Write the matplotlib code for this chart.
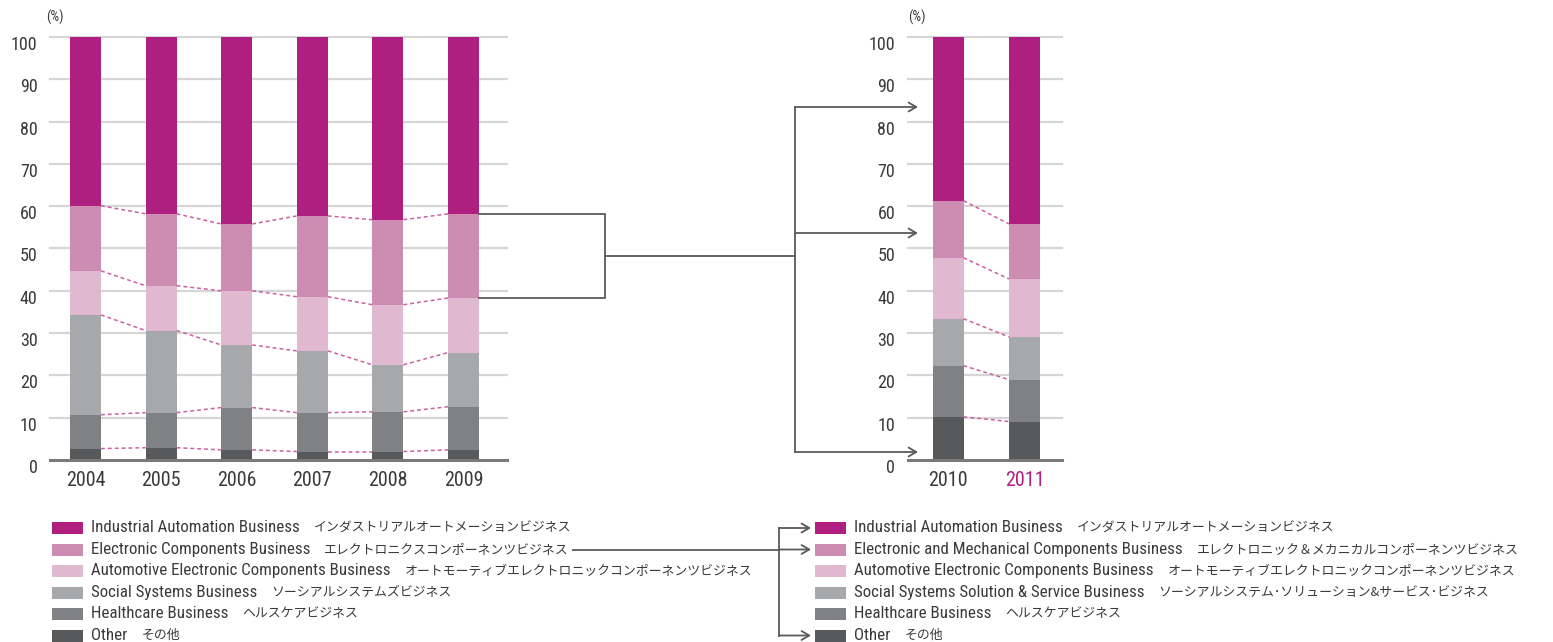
import matplotlib
matplotlib.use('agg')
import matplotlib.pyplot as plt
from matplotlib.patches import Rectangle
from matplotlib.transforms import ScaledTranslation
import numpy as np

EN = 'Roboto Condensed'
JP = 'Noto Sans CJK JP'
plt.rcParams['font.family'] = [EN, JP]

# segment shares (%), bottom to top
years_a = ['2004', '2005', '2006', '2007', '2008', '2009']
other_a = [2.7, 2.9, 2.4, 2.0, 2.0, 2.4]
health_a = [8.0, 8.3, 10.0, 9.2, 9.4, 10.2]
social_a = [23.6, 19.4, 14.8, 14.6, 11.1, 12.8]
auto_a = [10.4, 10.6, 12.8, 12.8, 14.2, 12.9]
elec_a = [15.4, 17.0, 15.8, 19.1, 20.1, 19.9]
iab_a = [39.9, 41.8, 44.2, 42.3, 43.2, 41.8]

years_b = ['2010', '2011']
other_b = [10.2, 9.1]
health_b = [12.1, 9.9]
social_b = [11.1, 10.1]
auto_b = [14.4, 13.7]
elec_b = [13.5, 13.0]
iab_b = [38.7, 44.2]

colors = ['#58595b', '#808184', '#a7a8ab', '#e0b8cf', '#cd8db3', '#ae1f7f']

en_a = ['Industrial Automation Business', 'Electronic Components Business',
        'Automotive Electronic Components Business', 'Social Systems Business',
        'Healthcare Business', 'Other']
jp_a = ['インダストリアルオートメーションビジネス', 'エレクトロニクスコンポーネンツビジネス',
        'オートモーティブエレクトロニックコンポーネンツビジネス', 'ソーシアルシステムズビジネス',
        'ヘルスケアビジネス', 'その他']
en_b = ['Industrial Automation Business', 'Electronic and Mechanical Components Business',
        'Automotive Electronic Components Business', 'Social Systems Solution & Service Business',
        'Healthcare Business', 'Other']
jp_b = ['インダストリアルオートメーションビジネス', 'エレクトロニック＆メカニカルコンポーネンツビジネス',
        'オートモーティブエレクトロニックコンポーネンツビジネス', 'ソーシアルシステム･ソリューション&サービス･ビジネス',
        'ヘルスケアビジネス', 'その他']

W, H = 1553, 642
fig = plt.figure(figsize=(W / 100, H / 100), dpi=100)
TXT = '#3a3a3a'
LINE = '#5a5a5c'


def px_axes(x0, y0, x1, y1):
    return fig.add_axes([x0 / W, 1 - y1 / H, (x1 - x0) / W, (y1 - y0) / H])


def stacked(ax, years, series, xlim, width, pct_x):
    x = np.arange(len(years))
    bottom = np.zeros(len(years))
    tops = []
    for vals, c in zip(series, colors):
        ax.bar(x, vals, width, bottom=bottom, color=c, zorder=3, linewidth=0)
        bottom = bottom + np.array(vals)
        tops.append(bottom.copy())
    # dashed links between segment boundaries
    for t in tops[:-1]:
        for i in range(len(years) - 1):
            ax.plot([x[i] + width / 2, x[i + 1] - width / 2], [t[i], t[i + 1]],
                    color='#cc5fa0', lw=1.1, ls=(0, (2.5, 2)), zorder=4)
    ax.set_xlim(*xlim)
    ax.set_ylim(0, 100)
    for v in range(10, 101, 10):
        ax.axhline(v, color='#d6d6d6', lw=1.6, zorder=1, clip_on=False)
    ax.axhline(0, color='#7a7a7a', lw=2.2, zorder=5, clip_on=False)
    for s in ax.spines.values():
        s.set_visible(False)
    ax.set_xticks(x)
    ax.set_xticklabels(years, fontsize=14.5, color=TXT)
    ax.set_yticks(range(0, 101, 10))
    ax.set_yticklabels([str(v) for v in range(0, 101, 10)], fontsize=13, color=TXT)
    ax.tick_params(length=0)
    ax.tick_params(axis='x', pad=8)
    ax.tick_params(axis='y', pad=9)
    off = ScaledTranslation(0, -6 / 100, fig.dpi_scale_trans)
    for lab in ax.get_yticklabels():
        lab.set_transform(lab.get_transform() + off)
    ax.text(pct_x, 1.047, '(%)', transform=ax.transAxes, fontsize=10, color=TXT,
            va='center', ha='left')
    return tops


ax1 = px_axes(50, 37, 507, 460)
w1 = 0.41
tops1 = stacked(ax1, years_a, [other_a, health_a, social_a, auto_a, elec_a, iab_a],
                (-0.47, 5.575), w1, -0.009)

ax2 = px_axes(907.7, 37, 1061.7, 460)
w2 = 0.405
stacked(ax2, years_b, [other_b, health_b, social_b, auto_b, elec_b, iab_b],
        (-0.527, 1.486), w2, 0.0)
ax2.get_xticklabels()[1].set_color('#ae1f7f')

# overlay in pixel coordinates for connectors and legends
ov = fig.add_axes([0, 0, 1, 1], zorder=10)
ov.set_xlim(0, W)
ov.set_ylim(H, 0)
ov.axis('off')
ov.patch.set_alpha(0)


def to_px(ax, x, y):
    X, Y = ax.transData.transform((x, y))
    return X, H - Y


arrow_kw = dict(arrowstyle='->,head_length=0.55,head_width=0.32', lw=1.3, color=LINE,
                shrinkA=0, shrinkB=0)

# bracket from 2009 electronic components segment
n = len(years_a) - 1
xr, ytop = to_px(ax1, n + w1 / 2, tops1[4][n])
_, ybot = to_px(ax1, n + w1 / 2, tops1[3][n])
xb = 605
ov.plot([xr, xb, xb, xr], [ytop, ytop, ybot, ybot], color=LINE, lw=1.3)
ymid = (ytop + ybot) / 2
xv = 795
ov.plot([xb, xv], [ymid, ymid], color=LINE, lw=1.3)
ya, yb, yc = 107, 233, 452
ov.plot([xv, xv], [ya, yc], color=LINE, lw=1.3)
for yy in (ya, yb, yc):
    ov.annotate('', xy=(918, yy), xytext=(xv, yy), arrowprops=arrow_kw)

# legends
renderer = fig.canvas.get_renderer()
row_y = [528, 549.5, 571, 592.5, 614, 635.5]
ends = []
for lx, ens, jps in ((52, en_a, jp_a), (815, en_b, jp_b)):
    for e, j, yy, c in zip(ens, jps, row_y, colors[::-1]):
        ov.add_patch(Rectangle((lx, yy - 6), 31, 12, color=c, lw=0))
        t = ov.text(lx + 39, yy, e, fontsize=12.2, color=TXT, va='center', ha='left')
        bb = t.get_window_extent(renderer)
        t2 = ov.text(bb.x1 + 14, yy, j, fontsize=9.3, color=TXT, va='center', ha='left',
                     family=JP)
        ends.append(t2.get_window_extent(renderer).x1)

# legend link lines
ov.plot([ends[1] + 4, 779], [row_y[1], row_y[1]], color=LINE, lw=1.3)
ov.annotate('', xy=(811, row_y[1]), xytext=(779, row_y[1]), arrowprops=arrow_kw)
ov.plot([779, 779], [row_y[0], row_y[5]], color=LINE, lw=1.3)
for yy in (row_y[0], row_y[5]):
    ov.annotate('', xy=(811, yy), xytext=(779, yy), arrowprops=arrow_kw)

fig.savefig('out.png', dpi=100)
